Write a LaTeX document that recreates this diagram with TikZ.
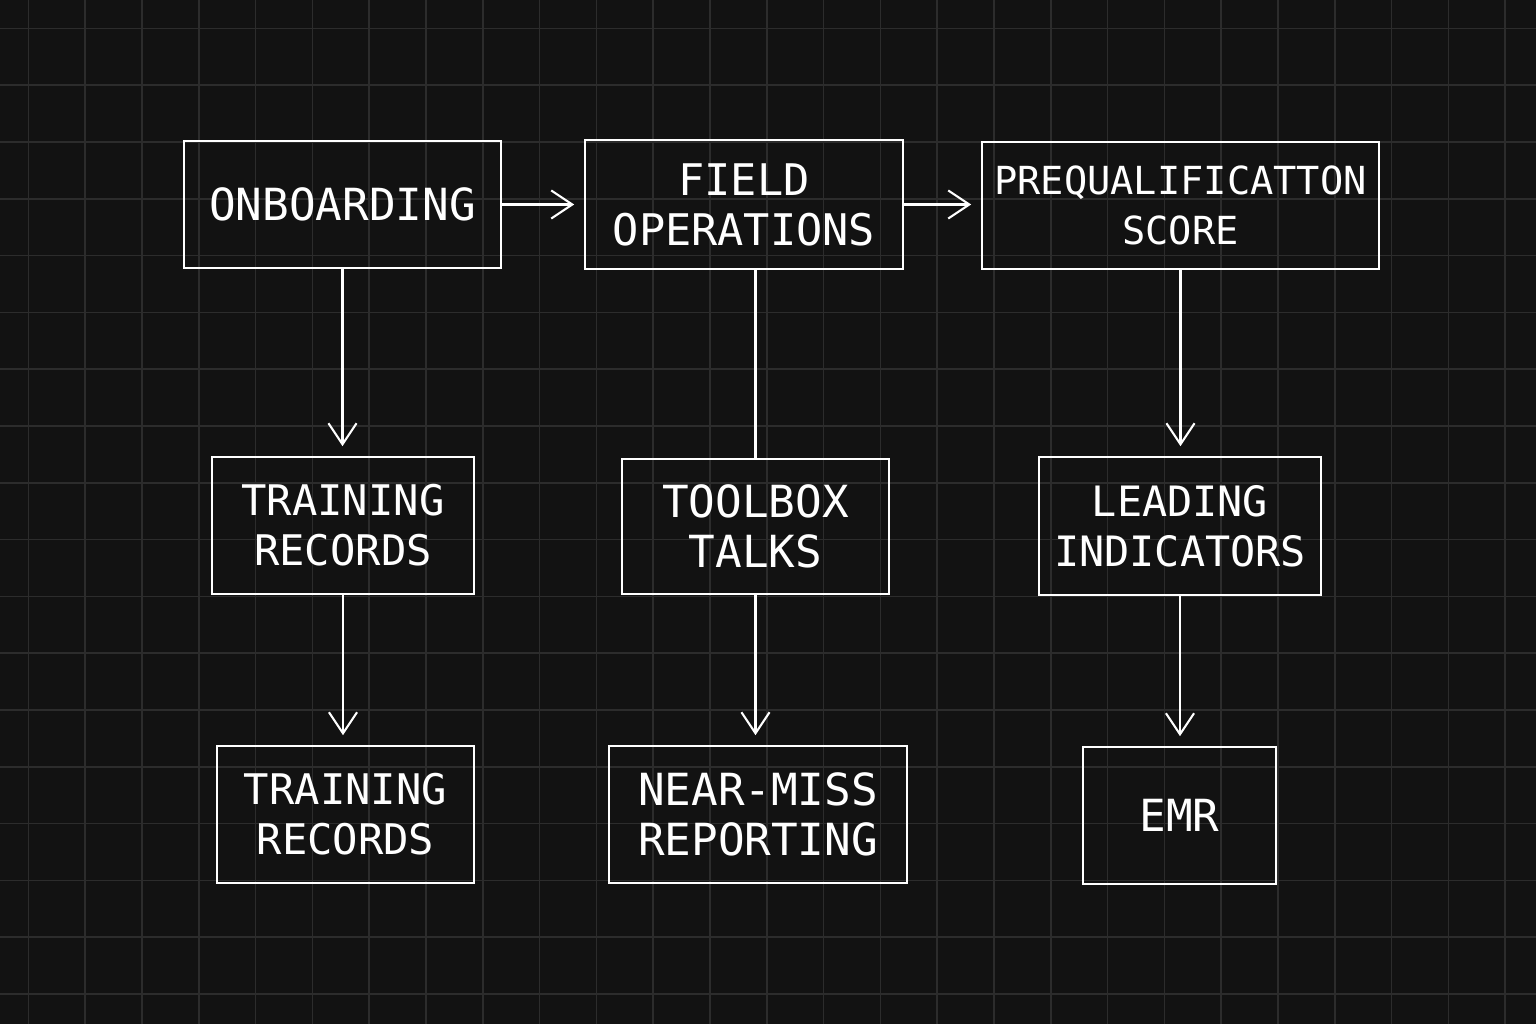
\documentclass[tikz,border=0pt]{standalone}
\usepackage{fontspec}
\usepackage{tikz}
\usepackage{xcolor}
\usetikzlibrary{arrows.meta,calc,positioning}
\newfontfamily\boxfont{DejaVu Sans Mono}
\definecolor{bgcol}{HTML}{121212}
\definecolor{gridcol}{HTML}{2C2C2C}

\begin{document}
\begin{tikzpicture}[
    box/.style={draw=white, line width=0.45pt, text=white, align=center,
      inner sep=0pt, font=\boxfont\fontsize{12.6}{14.2}\selectfont},
    link/.style={draw=white, line width=0.6pt},
    arr/.style={link, -{Straight Barb[length=6pt,width=8pt]}, shorten >=0.1cm}
  ]
  % ---------- background and grid ----------
  \def\W{15.36}
  \def\Ht{10.24}
  \def\cell{0.568}
  \fill[bgcol] (0,0) rectangle (\W,\Ht);
  \begin{scope}
    \clip (0,0) rectangle (\W,\Ht);
    \foreach \i in {0,...,27} {
      \draw[gridcol, line width=0.5pt] ({0.284+\i*\cell},0) -- ({0.284+\i*\cell},\Ht);
    }
    \foreach \j in {0,...,18} {
      \draw[gridcol, line width=0.5pt] (0,{0.30+\j*\cell}) -- (\W,{0.30+\j*\cell});
    }
  \end{scope}

  % ---------- top row ----------
  \node[box, minimum width=3.17cm, minimum height=1.27cm] (onb) at (3.425,8.195) {ONBOARDING};
  \node[box, minimum width=3.18cm, minimum height=1.29cm,
        font=\boxfont\fontsize{12.4}{14.2}\selectfont] (fops) at (7.44,8.195) {FIELD\\OPERATIONS};
  \node[box, minimum width=3.97cm, minimum height=1.27cm,
        font=\boxfont\fontsize{11}{14.2}\selectfont] (preq) at (11.805,8.185) {PREQUALIFICATTON\\SCORE};

  % ---------- middle row ----------
  \node[box, minimum width=2.62cm, minimum height=1.37cm,
        font=\boxfont\fontsize{12}{14.2}\selectfont] (trn1) at (3.43,4.985) {TRAINING\\RECORDS};
  \node[box, minimum width=2.67cm, minimum height=1.35cm] (tbx) at (7.555,4.975) {TOOLBOX\\TALKS};
  \node[box, minimum width=2.82cm, minimum height=1.38cm,
        font=\boxfont\fontsize{11.9}{14.2}\selectfont] (lead) at (11.80,4.98) {LEADING\\INDICATORS};

  % ---------- bottom row ----------
  \node[box, minimum width=2.57cm, minimum height=1.37cm,
        font=\boxfont\fontsize{12}{14.2}\selectfont] (trn2) at (3.455,2.095) {TRAINING\\RECORDS};
  \node[box, minimum width=2.98cm, minimum height=1.37cm] (nmr) at (7.58,2.095) {NEAR-MISS\\REPORTING};
  \node[box, minimum width=1.93cm, minimum height=1.37cm] (emr) at (11.795,2.085) {EMR};

  % ---------- connectors ----------
  \draw[arr] (onb.east) -- (onb.east -| fops.west);
  \draw[arr] (fops.east) -- (fops.east -| preq.west);
  \draw[arr] (onb.south) -- (onb.south |- trn1.north);
  \draw[link] (tbx.north |- fops.south) -- (tbx.north);
  \draw[arr] (preq.south) -- (preq.south |- lead.north);
  \draw[arr] (trn1.south) -- (trn1.south |- trn2.north);
  \draw[arr] (tbx.south) -- (tbx.south |- nmr.north);
  \draw[arr] (lead.south) -- (lead.south |- emr.north);
\end{tikzpicture}
\end{document}
